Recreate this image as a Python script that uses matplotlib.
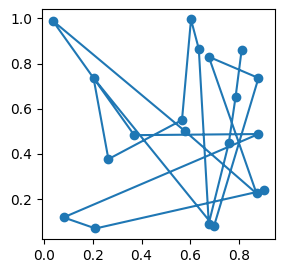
import numpy as np
from matplotlib import pyplot as plt

# points, in drawing order
x = [0.811, 0.786, 0.758, 0.676, 0.635, 0.603, 0.566, 0.264, 0.203, 0.697,
     0.880, 0.676, 0.872, 0.578, 0.035, 0.370, 0.880, 0.080, 0.211, 0.904]
y = [0.861, 0.652, 0.447, 0.092, 0.865, 0.995, 0.550, 0.377, 0.736, 0.079,
     0.736, 0.830, 0.225, 0.501, 0.990, 0.483, 0.488, 0.119, 0.070, 0.239]

fig = plt.figure(figsize=(2.84, 2.74), dpi=100)
ax = fig.add_axes([0.148, 0.128, 0.82, 0.839])
ax.plot(x, y, 'o-')
ax.set_xticks(np.arange(0, 0.81, 0.2))
ax.set_yticks(np.arange(0.2, 1.01, 0.2))
plt.savefig("out.png")
